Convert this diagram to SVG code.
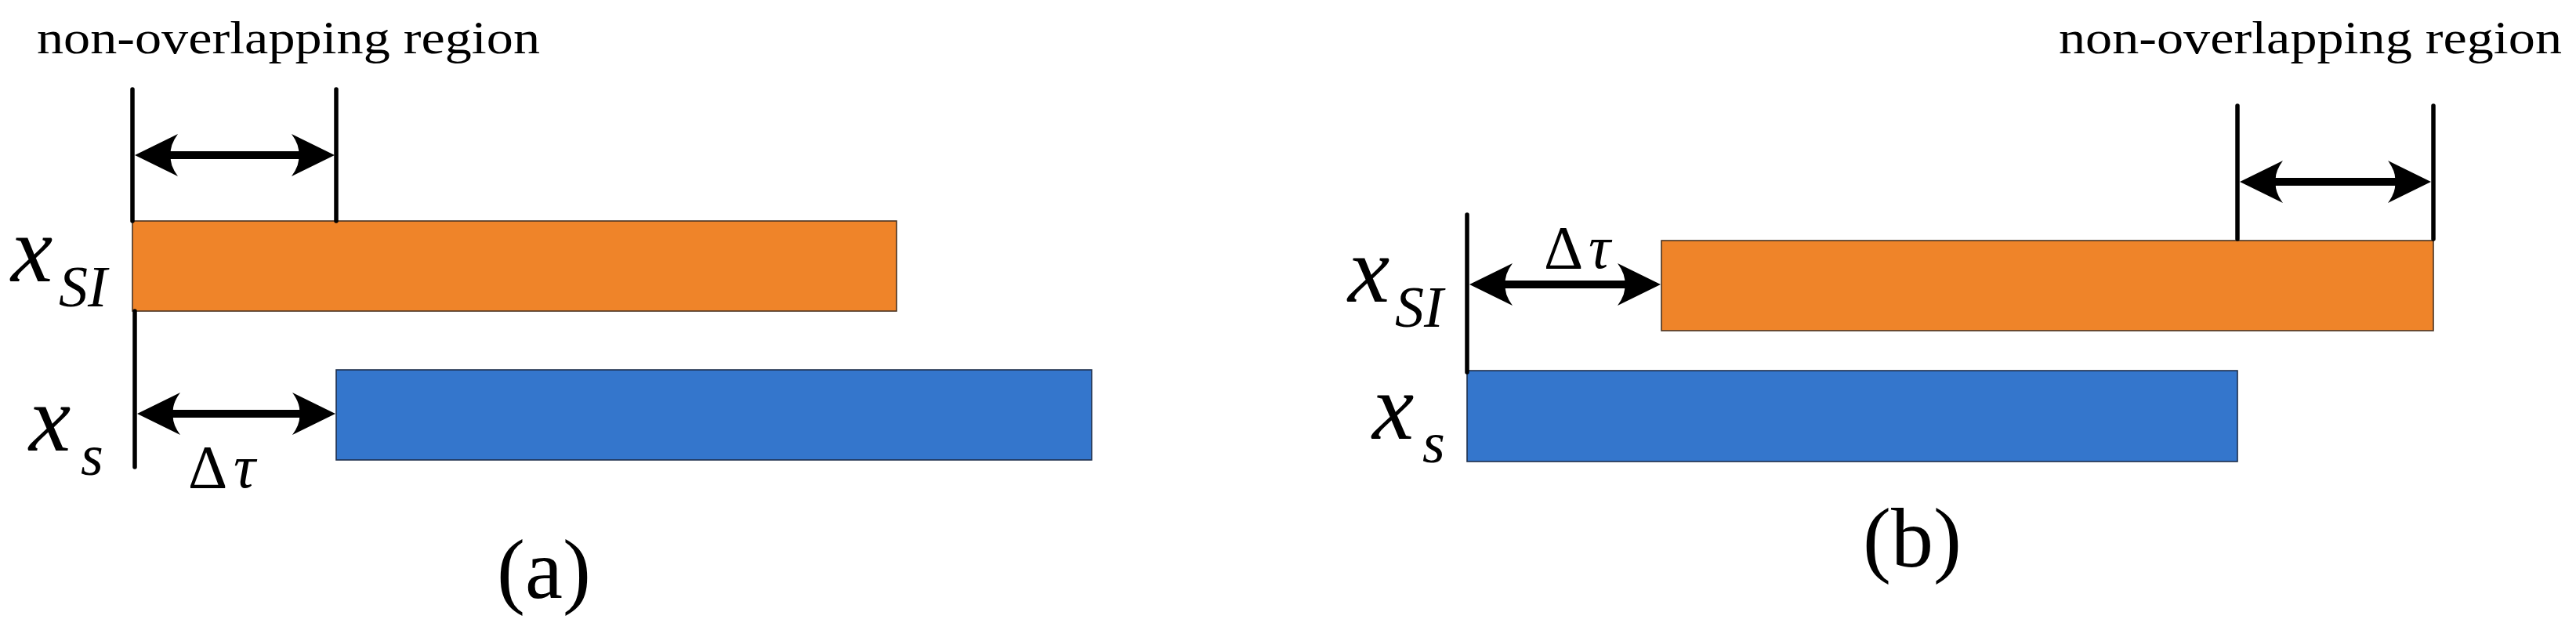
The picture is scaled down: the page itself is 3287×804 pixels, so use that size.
<svg xmlns="http://www.w3.org/2000/svg" width="3287" height="804" viewBox="0 0 3287 804">
  <style>
    .bg { fill: #ffffff; }
    .orange { fill: #EF8429; stroke: #4a3422; stroke-width: 1.6; }
    .blue { fill: #3476CC; stroke: #1d2f4c; stroke-width: 1.6; }
    .guide { stroke: #000; stroke-width: 5.5; stroke-linecap: round; fill: none; }
    .arrow { stroke: #000; stroke-width: 10; fill: none; marker-start: url(#head); marker-end: url(#head); }
    .math { font-family: "Liberation Serif", "Times New Roman", serif; font-style: italic; fill: #000; }
    .upright { font-family: "Liberation Serif", "Times New Roman", serif; fill: #000; }
    .note { font-family: "Liberation Serif", "Times New Roman", serif; font-size: 60px; fill: #000; }
    .cap { font-family: "Liberation Serif", "Times New Roman", serif; font-size: 108px; fill: #000; text-anchor: middle; }
  </style>
  <defs>
    <marker id="head" markerUnits="userSpaceOnUse" viewBox="-62 -30 66 60" markerWidth="66" markerHeight="60" refX="-40" refY="0" orient="auto-start-reverse">
      <path d="M0,0 L-55,-27 Q-44,-12 -46,0 Q-44,12 -55,27 Z" fill="#000"/>
    </marker>
  </defs>
  <rect class="bg" x="0" y="0" width="3287" height="804"/>

  <!-- Panel (a) -->
  <g id="a-note"><text class="note" x="47" y="68" textLength="642" lengthAdjust="spacingAndGlyphs">non-overlapping region</text></g>
  <g id="a-bar-xsi"><rect class="orange" x="169" y="282" width="975" height="115"/></g>
  <g id="a-bar-xs"><rect class="blue" x="429" y="472" width="964" height="115"/></g>
  <g id="a-label-xsi"><text class="math"><tspan x="14" y="359" font-size="120">x</tspan><tspan x="75" y="391" font-size="74">SI</tspan></text></g>
  <g id="a-label-xs"><text class="math"><tspan x="37" y="575" font-size="120">x</tspan><tspan x="103" y="606" font-size="74">s</tspan></text></g>
  <g id="a-label-dtau"><text><tspan class="upright" x="240" y="622" font-size="78">Δ</tspan><tspan class="math" x="298" y="622" font-size="78">τ</tspan></text></g>
  <g id="a-caption"><text class="cap" x="694" y="763">(a)</text></g>

  <!-- Panel (b) -->
  <g id="b-note"><text class="note" x="2627" y="68" textLength="642" lengthAdjust="spacingAndGlyphs">non-overlapping region</text></g>
  <g id="b-bar-xsi"><rect class="orange" x="2120" y="307" width="985" height="115"/></g>
  <g id="b-bar-xs"><rect class="blue" x="1872" y="473" width="983" height="116"/></g>
  <g id="b-label-xsi"><text class="math"><tspan x="1720" y="385" font-size="120">x</tspan><tspan x="1780" y="417" font-size="74">SI</tspan></text></g>
  <g id="b-label-xs"><text class="math"><tspan x="1751" y="560" font-size="120">x</tspan><tspan x="1815" y="590" font-size="74">s</tspan></text></g>
  <g id="b-label-dtau"><text><tspan class="upright" x="1970" y="342" font-size="78">Δ</tspan><tspan class="math" x="2027" y="342" font-size="78">τ</tspan></text></g>
  <g id="b-caption"><text class="cap" x="2440" y="723">(b)</text></g>

  <!-- Guide lines -->
  <g id="guides">
    <line class="guide" x1="169" y1="114" x2="169" y2="282"/>
    <line class="guide" x1="429" y1="114" x2="429" y2="282"/>
    <line class="guide" x1="172" y1="397" x2="172" y2="596"/>
    <line class="guide" x1="1872" y1="274" x2="1872" y2="475"/>
    <line class="guide" x1="2855" y1="135" x2="2855" y2="305"/>
    <line class="guide" x1="3105" y1="135" x2="3105" y2="305"/>
  </g>

  <!-- Connectors (double-headed arrows) -->
  <g id="connectors">
    <line class="arrow" x1="212" y1="198" x2="387" y2="198"/>
    <line class="arrow" x1="215" y1="528" x2="388" y2="528"/>
    <line class="arrow" x1="1915" y1="363" x2="2079" y2="363"/>
    <line class="arrow" x1="2898" y1="232" x2="3062" y2="232"/>
  </g>
</svg>
